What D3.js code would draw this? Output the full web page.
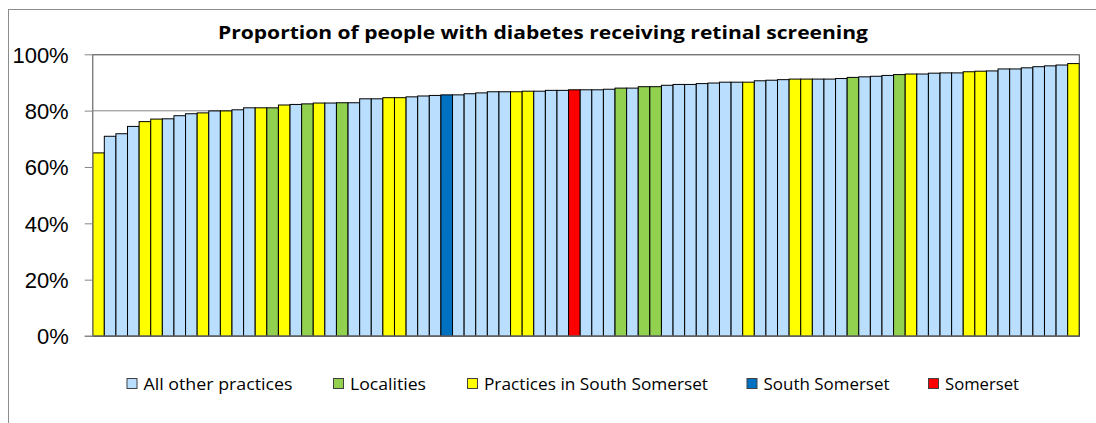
<!DOCTYPE html>
<head>
  <meta charset="utf-8">
  <script src="https://d3js.org/d3.v7.min.js"></script>
  <style>
    body { margin:0; background:#fff; }
    .title { font-family: 'Open Sans', sans-serif; font-weight: 700; font-size: 18px; fill: #000; }
    .y-axis text { font-family: 'Liberation Sans', Arial, sans-serif; font-size: 22px; fill: #000; }
    .legend text { font-family: 'Open Sans', sans-serif; font-size: 16px; fill: #000; }
    .grid-line { stroke: #868686; stroke-width: 1; }
    .bar { stroke: #000; stroke-width: 1; }
  </style>
</head>
<body>
  <script>
    // groups, as in the legend
    var groups = ["All other practices", "Localities", "Practices in South Somerset", "South Somerset", "Somerset"];
    var groupColours = ["#B9DEFE", "#92D050", "#FFFF00", "#0070C0", "#FF0000"];

    // one entry per bar, left to right: group index and value (%)
    var barGroup = [2,0,0,0,2,2,0,0,0,2, 0,2,0,0,2,1,2,0,1,2,
                    0,1,0,0,0,2,2,0,0,0, 3,0,0,0,0,0,2,2,0,0,
                    0,4,0,0,0,1,0,1,1,0, 0,0,0,0,0,0,2,0,0,0,
                    2,2,0,0,0,1,0,0,0,1, 2,0,0,0,0,2,2,0,0,0,
                    0,0,0,0,2];
    var barValue = [65.0,70.9,71.8,74.4,76.1,77.0,77.1,78.2,78.9,79.2,
                    79.9,79.9,80.3,81.0,81.0,81.0,82.0,82.2,82.4,82.7,
                    82.7,82.8,82.8,84.2,84.2,84.6,84.6,84.9,85.2,85.4,
                    85.6,85.6,86.0,86.3,86.7,86.7,86.7,86.9,86.9,87.2,
                    87.2,87.4,87.4,87.4,87.6,88.0,88.0,88.5,88.5,89.0,
                    89.3,89.3,89.6,89.8,90.1,90.1,90.1,90.6,90.8,91.0,
                    91.2,91.2,91.2,91.2,91.4,91.8,92.0,92.2,92.5,92.8,
                    93.0,93.0,93.3,93.4,93.4,93.8,94.0,94.1,94.8,94.8,
                    95.2,95.6,95.9,96.2,96.7];
    var yTicks = [0, 20, 40, 60, 80, 100];

    var W = 1096, H = 423;
    var margin = {top: 54.3, right: 16.7, bottom: 87, left: 92.7};
    var width = W - margin.left - margin.right,
        height = H - margin.top - margin.bottom;

    var svg = d3.select("body").append("svg")
        .attr("width", W)
        .attr("height", H);

    // outer chart frame (runs off the picture on the right and bottom)
    svg.append("rect")
      .attr("x", 8.5).attr("y", 9.5)
      .attr("width", W + 20).attr("height", H + 20)
      .attr("fill", "none")
      .attr("stroke", "#8c8c8c");

    svg.append("text")
      .attr("class", "title")
      .attr("x", 218)
      .attr("y", 39)
      .attr("textLength", 650)
      .attr("lengthAdjust", "spacingAndGlyphs")
      .text("Proportion of people with diabetes receiving retinal screening");

    var g = svg.append("g")
      .attr("transform", "translate(" + margin.left + "," + margin.top + ")");

    var x = d3.scaleBand()
      .domain(d3.range(barValue.length))
      .range([0, width])
      .padding(0);

    var y = d3.scaleLinear()
      .domain([0, 100])
      .range([height, 0]);

    g.append("g").selectAll("line")
      .data(yTicks.filter(d => d > 0 && d < 100))
      .enter().append("line")
        .attr("class", "grid-line")
        .attr("x1", 0).attr("x2", width)
        .attr("y1", d => Math.round(y(d)) + 0.5)
        .attr("y2", d => Math.round(y(d)) + 0.5);

    g.append("g").selectAll("rect")
      .data(barValue)
      .enter().append("rect")
        .attr("class", "bar")
        .attr("x", (d, i) => x(i))
        .attr("y", d => y(d))
        .attr("width", x.bandwidth())
        .attr("height", d => height - y(d))
        .attr("fill", (d, i) => groupColours[barGroup[i]]);

    // plot area border
    g.append("rect")
      .attr("x", 0).attr("y", 0.5)
      .attr("width", width).attr("height", height)
      .attr("fill", "none")
      .attr("stroke", "#3f3f3f");

    var yAxis = d3.axisLeft(y)
      .tickValues(yTicks)
      .tickFormat(d => d + "%")
      .tickSize(8)
      .tickPadding(16);

    var yAxisElem = g.append("g")
      .attr("class", "y-axis")
      .call(yAxis);
    yAxisElem.select(".domain").attr("stroke", "#868686").attr("d", "M0,0V" + height);
    yAxisElem.selectAll(".tick line").attr("stroke", "#868686");
    yAxisElem.selectAll(".tick text").attr("dy", "0.36em");

    // x axis base line
    g.append("line")
      .attr("x1", -8).attr("x2", width)
      .attr("y1", height).attr("y2", height)
      .attr("stroke", "#868686");

    // legend
    var legendX = [126.5, 333, 467, 746.5, 928];
    var legendTextW = [149, 76, 224, 126, 74];
    var legend = svg.append("g")
      .attr("class", "legend")
      .selectAll("g")
      .data(groups)
      .enter().append("g")
        .attr("transform", (d, i) => "translate(" + legendX[i] + ",378)");
    legend.append("rect")
      .attr("x", 0.5).attr("y", 0.5)
      .attr("width", 10).attr("height", 10)
      .attr("fill", (d, i) => groupColours[i])
      .attr("stroke", "#404040");
    legend.append("text")
      .attr("x", 17)
      .attr("y", 12)
      .attr("textLength", (d, i) => legendTextW[i])
      .attr("lengthAdjust", "spacingAndGlyphs")
      .text(d => d);
  </script>
</body>
